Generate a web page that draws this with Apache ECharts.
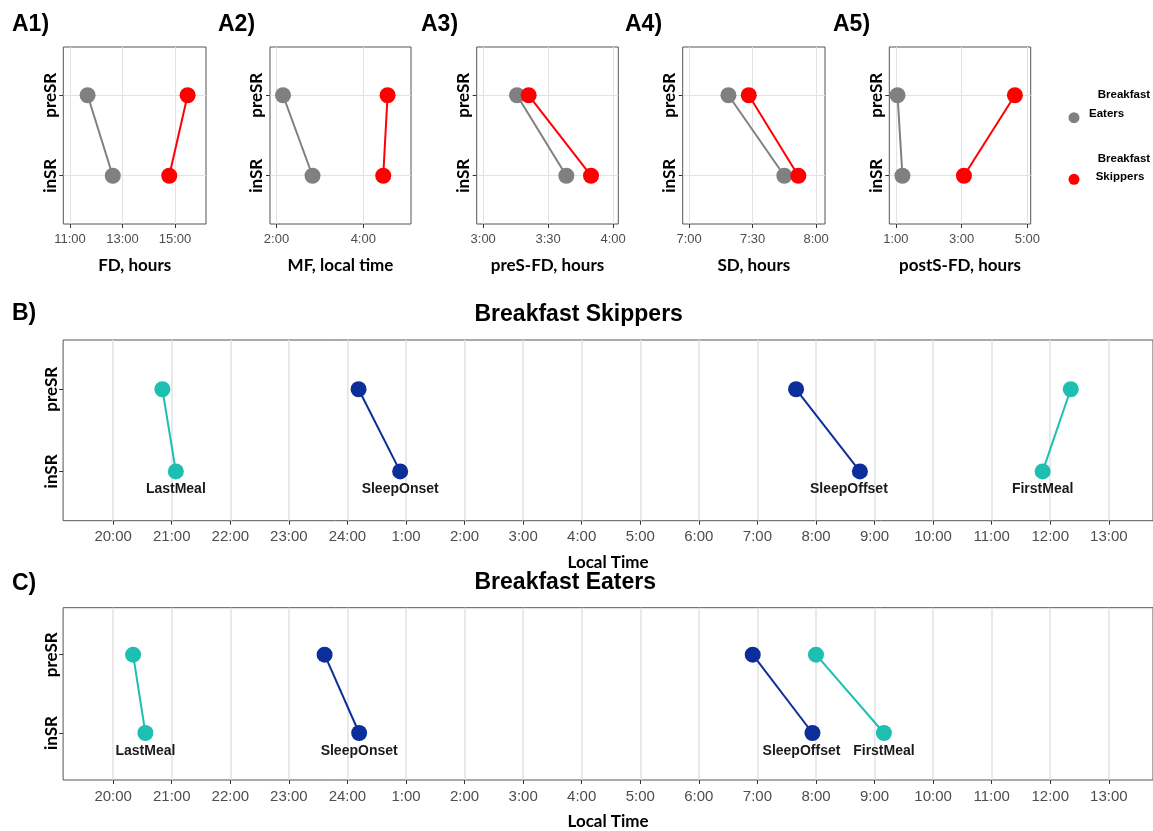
<!DOCTYPE html>
<html><head><meta charset="utf-8">
<script src="https://cdn.jsdelivr.net/npm/echarts@6/dist/echarts.min.js"></script>
<style>html,body{margin:0;padding:0;background:#fff}#c{width:1153px;height:831px}</style>
</head><body><div id="c"></div><script>
// ---------- data ----------
const ySlots = ['inSR', 'preSR'];               // y positions 1, 2
const groupNames = ['Breakfast Eaters', 'Breakfast Skippers'];
// A panels: decimal hours, [inSR, preSR]
const fdEaters = [12.63, 11.67];
const fdSkippers = [14.78, 15.48];
const mfEaters = [2.83, 2.15];
const mfSkippers = [4.46, 4.56];
const preSFDEaters = [3.64, 3.26];
const preSFDSkippers = [3.83, 3.35];
const sdEaters = [7.75, 7.31];
const sdSkippers = [7.86, 7.47];
const postSFDEaters = [1.20, 1.05];
const postSFDSkippers = [3.07, 4.62];
const fdTicks = [11, 13, 15];
const mfTicks = [2, 4];
const preSFDTicks = [3, 3.5, 4];
const sdTicks = [7, 7.5, 8];
const postSFDTicks = [1, 3, 5];
const panelTags = ['A1)', 'A2)', 'A3)', 'A4)', 'A5)'];
const aTitles = ['FD, hours', 'MF, local time', 'preS-FD, hours', 'SD, hours', 'postS-FD, hours'];
// B / C panels: clock hours counted from the previous day (24+ = after midnight), [inSR, preSR]
const events = ['LastMeal', 'SleepOnset', 'SleepOffset', 'FirstMeal'];
const skipLastMeal = [21.07, 20.84];
const skipSleepOnset = [24.90, 24.19];
const skipSleepOffset = [32.75, 31.66];
const skipFirstMeal = [35.87, 36.35];
const eatLastMeal = [20.55, 20.34];
const eatSleepOnset = [24.20, 23.61];
const eatSleepOffset = [31.94, 30.92];
const eatFirstMeal = [33.16, 32.00];
const localTicks = [20, 21, 22, 23, 24, 25, 26, 27, 28, 29, 30, 31, 32, 33, 34, 35, 36, 37];
const bTitle = 'Breakfast Skippers';
const cTitle = 'Breakfast Eaters';
const xTitleLocal = 'Local Time';

// ---------- styling ----------
const GRAY = '#808080', RED = '#ff0000', TEAL = '#1cbfb0', NAVY = '#0b2e9b';
const SANS = "'Liberation Sans', Arial, sans-serif";
const CAL = "Lato, 'Open Sans', sans-serif";
const GRID_LINE = '#e2e2e2';

function hm(v) {
  let h = Math.floor(v + 1e-9);
  let m = Math.round((v - h) * 60);
  if (m === 60) { h += 1; m = 0; }
  return h + ':' + String(m).padStart(2, '0');
}
function localFmt(v) { return hm(v > 24 ? v - 24 : v); }

const aPanels = [
  { left: 63.3, width: 142.7, min: 10.745, max: 16.18, ticks: fdTicks, e: fdEaters, s: fdSkippers, tagX: 12 },
  { left: 270, width: 141, min: 1.85, max: 5.10, ticks: mfTicks, e: mfEaters, s: mfSkippers, tagX: 218 },
  { left: 476.7, width: 141.6, min: 2.95, max: 4.04, ticks: preSFDTicks, e: preSFDEaters, s: preSFDSkippers, tagX: 421 },
  { left: 682.7, width: 142.3, min: 6.95, max: 8.07, ticks: sdTicks, e: sdEaters, s: sdSkippers, tagX: 625 },
  { left: 889.3, width: 141.4, min: 0.80, max: 5.10, ticks: postSFDTicks, e: postSFDEaters, s: postSFDSkippers, tagX: 833 }
];
const bcPanels = [
  { top: 340, height: 180.7, tagTop: 302, titleTop: 303, title: bTitle, tag: 'B)',
    vals: [skipLastMeal, skipSleepOnset, skipSleepOffset, skipFirstMeal] },
  { top: 607.7, height: 181.6, tagTop: 572, titleTop: 571.5, title: cTitle, tag: 'C)',
    vals: [eatLastMeal, eatSleepOnset, eatSleepOffset, eatFirstMeal] }
];
const eventColors = [TEAL, NAVY, NAVY, TEAL];
const eventOffsets = [[0, 0], [0, 0], [-11, 0], [0, 0]];

const grids = [], xAxes = [], yAxes = [], series = [], titles = [];

function yAxisCfg(idx, showSplit, margin) {
  return {
    type: 'value', gridIndex: idx, min: 0.4, max: 2.6,
    axisLine: { show: false },
    axisTick: { show: true, length: 4, customValues: [1, 2], lineStyle: { color: '#333', width: 1 } },
    axisLabel: { customValues: [1, 2], formatter: v => ySlots[Math.round(v) - 1], rotate: 90, margin: margin,
      color: '#000', fontFamily: CAL, fontWeight: 'bold', fontSize: 17 },
    splitLine: { show: showSplit, lineStyle: { color: GRID_LINE, width: 1 } }
  };
}

aPanels.forEach((p, i) => {
  grids.push({ left: p.left, top: 47, width: p.width, height: 177, show: true, borderColor: '#555', borderWidth: 1, backgroundColor: 'transparent' });
  xAxes.push({
    type: 'value', gridIndex: i, min: p.min, max: p.max,
    name: aTitles[i], nameLocation: 'middle', nameGap: 33,
    nameTextStyle: { color: '#000', fontFamily: CAL, fontWeight: 'bold', fontSize: 17 },
    axisLine: { show: false },
    axisTick: { show: true, length: 4, customValues: p.ticks, lineStyle: { color: '#333' } },
    axisLabel: { customValues: p.ticks, formatter: v => hm(v), margin: 9, color: '#4d4d4d', fontFamily: SANS, fontSize: 13 },
    splitLine: { show: true, lineStyle: { color: GRID_LINE, width: 1 } }
  });
  yAxes.push(yAxisCfg(i, true, 4.5));
  [p.e, p.s].forEach((vals, g) => {
    const col = g === 0 ? GRAY : RED;
    series.push({
      type: 'line', name: groupNames[g], xAxisIndex: i, yAxisIndex: i,
      data: vals.map((v, k) => [v, k + 1]),
      symbol: 'circle', symbolSize: 16, showSymbol: true,
      lineStyle: { color: col, width: 2 }, itemStyle: { color: col },
      animation: false, z: 2 + g
    });
  });
  titles.push({ text: panelTags[i], left: p.tagX, top: 13, padding: 0,
    textStyle: { fontFamily: SANS, fontWeight: 'bold', fontSize: 23, color: '#000' } });
});

bcPanels.forEach((p, j) => {
  const i = 5 + j;
  grids.push({ left: 63.1, top: p.top, width: 1092, height: p.height, show: true, borderColor: '#555', borderWidth: 1, backgroundColor: 'transparent' });
  xAxes.push({
    type: 'value', gridIndex: i, min: 19.145, max: 19.145 + 1092 / 58.68,
    name: xTitleLocal, nameLocation: 'middle', nameGap: 33,
    nameTextStyle: { color: '#000', fontFamily: CAL, fontWeight: 'bold', fontSize: 17 },
    axisLine: { show: false },
    axisTick: { show: true, length: 4, customValues: localTicks, lineStyle: { color: '#333' } },
    axisLabel: { customValues: localTicks, formatter: v => localFmt(v), margin: 9, color: '#4d4d4d', fontFamily: SANS, fontSize: 15 },
    splitLine: { show: true, lineStyle: { color: GRID_LINE, width: 1.5 } }
  });
  yAxes.push(yAxisCfg(i, false, 3));
  p.vals.forEach((vals, e) => {
    const col = eventColors[e];
    series.push({
      type: 'line', name: events[e], xAxisIndex: i, yAxisIndex: i,
      data: vals.map((v, k) => k === 0
        ? { value: [v, k + 1], label: { show: true, position: 'bottom', distance: 3, offset: eventOffsets[e],
            formatter: events[e], fontFamily: SANS, fontWeight: 'bold', fontSize: 14, color: '#1a1a1a' } }
        : { value: [v, k + 1] }),
      symbol: 'circle', symbolSize: 16, showSymbol: true,
      lineStyle: { color: col, width: 2 }, itemStyle: { color: col },
      animation: false
    });
  });
  titles.push({ text: p.tag, left: 12, top: p.tagTop, padding: 0,
    textStyle: { fontFamily: SANS, fontWeight: 'bold', fontSize: 23, color: '#000' } });
  titles.push({ text: p.title, left: 474.5, top: p.titleTop, padding: 0,
    textStyle: { fontFamily: SANS, fontWeight: 'bold', fontSize: 23, color: '#000' } });
});

const legendFont = { fontFamily: SANS, fontWeight: 'bold', fontSize: 11.5, fill: '#000', textVerticalAlign: 'middle' };
const graphic = [
  { type: 'circle', shape: { cx: 1074, cy: 117.7, r: 5.5 }, style: { fill: GRAY } },
  { type: 'text', x: 1097.7, y: 95, style: Object.assign({ text: groupNames[0].split(' ')[0] }, legendFont) },
  { type: 'text', x: 1089, y: 114, style: Object.assign({ text: groupNames[0].split(' ')[1] }, legendFont) },
  { type: 'circle', shape: { cx: 1074, cy: 179.3, r: 5.5 }, style: { fill: RED } },
  { type: 'text', x: 1097.7, y: 159.3, style: Object.assign({ text: groupNames[1].split(' ')[0] }, legendFont) },
  { type: 'text', x: 1095.7, y: 176.7, style: Object.assign({ text: groupNames[1].split(' ')[1] }, legendFont) }
];

const chart = echarts.init(document.getElementById('c'), null, { renderer: 'canvas' });
chart.setOption({
  backgroundColor: '#fff', animation: false,
  title: titles, grid: grids, xAxis: xAxes, yAxis: yAxes, series: series, graphic: graphic,
  tooltip: { show: false }
});
</script></body></html>
